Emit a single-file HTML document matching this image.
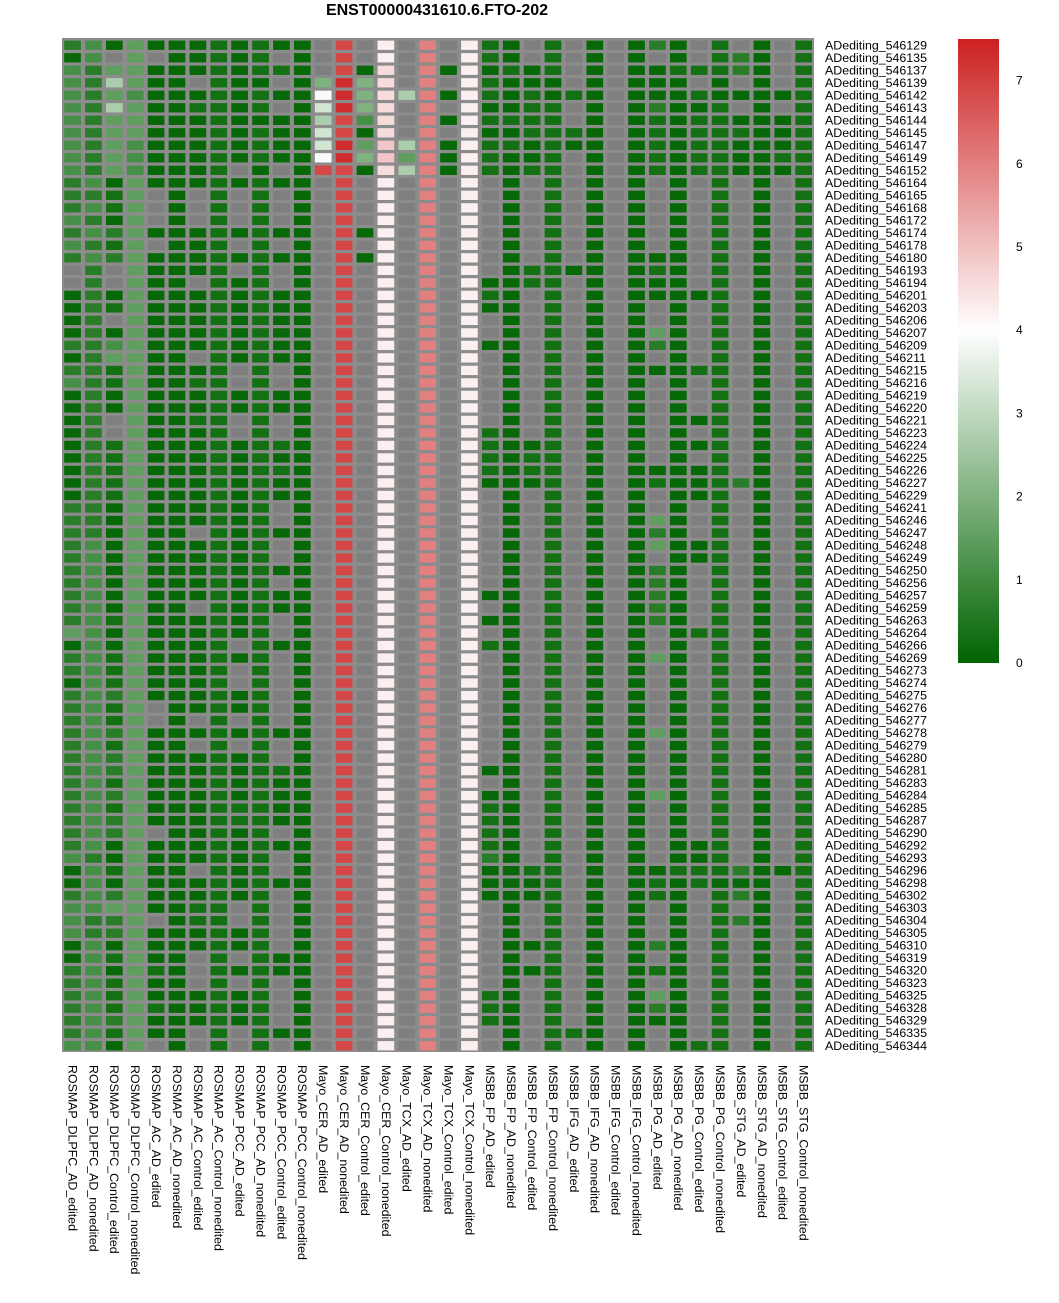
<!DOCTYPE html>
<html><head><meta charset="utf-8"><title>ENST00000431610.6.FTO-202</title>
<style>
html,body{margin:0;padding:0;background:#fff;}
svg{display:block;font-family:"Liberation Sans",Arial,sans-serif;}
</style></head>
<body>
<svg id="chart" width="1059" height="1303" viewBox="0 0 1059 1303">
<defs>
<linearGradient id="lg" x1="0" y1="1" x2="0" y2="0">
<stop offset="0" stop-color="#006400"/>
<stop offset="0.5333" stop-color="#ffffff"/>
<stop offset="1" stop-color="#cc2020"/>
</linearGradient>
</defs>
<text x="437" y="15" text-anchor="middle" font-size="16" font-weight="bold">ENST00000431610.6.FTO-202</text>
<g id="cells"></g>
<g id="rowlabels"></g>
<g id="collabels"></g>
<g id="legend">
<rect x="958" y="39" width="41" height="624" fill="url(#lg)"/>
</g>
</svg>
<script>
const columns = ["ROSMAP_DLPFC_AD_edited","ROSMAP_DLPFC_AD_nonedited","ROSMAP_DLPFC_Control_edited","ROSMAP_DLPFC_Control_nonedited","ROSMAP_AC_AD_edited","ROSMAP_AC_AD_nonedited","ROSMAP_AC_Control_edited","ROSMAP_AC_Control_nonedited","ROSMAP_PCC_AD_edited","ROSMAP_PCC_AD_nonedited","ROSMAP_PCC_Control_edited","ROSMAP_PCC_Control_nonedited","Mayo_CER_AD_edited","Mayo_CER_AD_nonedited","Mayo_CER_Control_edited","Mayo_CER_Control_nonedited","Mayo_TCX_AD_edited","Mayo_TCX_AD_nonedited","Mayo_TCX_Control_edited","Mayo_TCX_Control_nonedited","MSBB_FP_AD_edited","MSBB_FP_AD_nonedited","MSBB_FP_Control_edited","MSBB_FP_Control_nonedited","MSBB_IFG_AD_edited","MSBB_IFG_AD_nonedited","MSBB_IFG_Control_edited","MSBB_IFG_Control_nonedited","MSBB_PG_AD_edited","MSBB_PG_AD_nonedited","MSBB_PG_Control_edited","MSBB_PG_Control_nonedited","MSBB_STG_AD_edited","MSBB_STG_AD_nonedited","MSBB_STG_Control_edited","MSBB_STG_Control_nonedited"];
const rowIds = ["546129","546135","546137","546139","546142","546143","546144","546145","546147","546149","546152","546164","546165","546168","546172","546174","546178","546180","546193","546194","546201","546203","546206","546207","546209","546211","546215","546216","546219","546220","546221","546223","546224","546225","546226","546227","546229","546241","546246","546247","546248","546249","546250","546256","546257","546259","546263","546264","546266","546269","546273","546274","546275","546276","546277","546278","546279","546280","546281","546283","546284","546285","546287","546290","546292","546293","546296","546298","546302","546303","546304","546305","546310","546319","546320","546323","546325","546328","546329","546335","546344"];
// value codes: '.' = NA
const codeValues = {"0":0.1,"1":0.3,"2":0.65,"3":1.1,"4":1.5,"5":2.0,"6":2.7,"7":3.3,"8":3.9,"9":4.25,"a":4.55,"b":4.9,"c":6.0,"d":6.5,"e":6.9,"f":7.3};
const M = ".e.9.c.9";
const B = ".0.1.0.0.0.1.0.1";
const rowCodes = [
"230400010100"+".e.9.c.9"+"10.1.0.020.1.0.1",
"03.4.00101.0"+".e.9.c.9"+"10.1.0.0.0.120.1",
"324400010110"+".e0a.c09"+"0101.0.0011120.1",
"326400.100.0"+"5f5a.c.9"+"1000.0.000.0.0.1",
"324300010100"+"8f5a6c09"+"101010.000100001",
"3264001101.0"+"7f5a.c.9"+"0011.0.02001.0.1",
"324400010000"+"6e3a.c09"+"1111.0.010110001",
"324400010100"+"7e0a.c.9"+"001110.010111001",
"324300010100"+"7f4b6c09"+"110100.010110001",
"324300010100"+"8f5b4c09"+"1001.0.010110011",
"32430001.0.0"+"ee0a6c09"+"1011.0.010110001",
"230400010100"+M+B,
"2214.0.1.1.0"+M+B,
"2314.0.1.1.0"+M+B,
"3204.0.1.1.0"+M+B,
"232400010100"+".e09.c.9"+B,
"3214.001.1.0"+M+B,
"232400010100"+".e09.c.9"+".0.1.0.000.1.0.1",
".2.40001.1.0"+M+".01100.010.1.0.1",
".2.400.101.0"+M+"0011.0.000.1.0.1",
"020400010100"+M+"10.1.0.00001.0.1",
"021400010100"+M+"00.1.0.0.0.1.0.1",
"02.400010100"+M+B,
"020400010100"+M+".0.1.0.040.1.0.1",
"223400010100"+M+"00.1.0.020.1.0.1",
"024400.10100"+M+B,
"22140001.1.0"+M+".0.1.0.00011.0.1",
"32140011.1.0"+M+B,
"020400010100"+M+B,
"020400010100"+M+B,
"02.40011.1.0"+M+".0.1.0.0.001.0.1",
"02.40001.1.0"+M+"10.1.0.0.0.1.0.1",
"021400010110"+M+"1001.0.0.001.0.1",
"021400010100"+M+"1011.0.0.0.1.0.1",
"021400010110"+M+"1011.0.00001.0.1",
"021400010100"+M+"0001.0.0100120.1",
"021400010100"+M+".0.1.0.0.001.0.1",
"2204000101.0"+M+B,
"2204000101.0"+M+".0.1.0.040.1.0.1",
"220400.10100"+M+".0.1.0.020.1.0.1",
"2304000101.0"+M+".0.1.0.04001.0.1",
"2304000101.0"+M+".0.1.0.0.001.0.1",
"230400010100"+M+".0.1.0.020.1.0.1",
"2304000101.0"+M+".0.1.0.020.1.0.1",
"230400010100"+M+"00.1.0.020.1.0.1",
"230400.10100"+M+".0.1.0.020.1.0.1",
"2314000101.0"+M+"00.1.0.020.1.0.1",
"4304000101.0"+M+".0.1.0.0.011.0.1",
"03040001.100"+M+"10.1.0.0.0.1.0.1",
"2314000101.0"+M+".0.1.0.040.1.0.1",
"23140001.1.0"+M+B,
"03140001.1.0"+M+B,
"2324000101.0"+M+B,
"2314.00101.0"+M+B,
"2314.0.1.1.0"+M+B,
"232400010100"+M+".0.1.0.040.1.0.1",
"231400.1.1.0"+M+B,
"2324000101.0"+M+B,
"232400010110"+M+"00.1.0.0.0.1.0.1",
"231400010100"+M+B,
"232400010100"+M+"00.1.0.040.1.0.1",
"231400011100"+M+"10.1.0.0.0.1.0.1",
"232400011100"+M+"10.1.0.0.0.1.0.1",
"2324.00101.0"+M+"10.1.0.0.0.1.0.1",
"230400010100"+M+"10.1.0.0.001.0.1",
"3204000101.0"+M+"20.1.0.0.001.0.1",
"031400.101.0"+M+"0011.0.001112001",
"030400010100"+M+"0001.0.0101000.1",
"2324000101.0"+M+"0001.0.010.120.1",
"33440011.1.0"+M+B,
"3224.011.1.0"+M+".0.1.0.0.0.120.1",
"3224000101.0"+M+B,
"0304000101.0"+M+".001.0.020.1.0.1",
"031400.1.100"+M+B,
"230410.10100"+M+".001.0.010.1.0.1",
"231400.1.1.0"+M+B,
"2314000101.0"+M+"10.1.0.040.1.0.1",
"2314100101.0"+M+"10.1.0.020.1.0.1",
"2324000101.0"+M+"10.1.0.000.1.0.1",
"231400.1.100"+M+".0.110.0.0.1.0.1",
"3304.0.1.1.0"+M+".0.1.0.0.011.0.1"
];
const legendTicks = [0,1,2,3,4,5,6,7];

// ---- scales ----
const gx0 = 62, gy0 = 39, gx1 = 814, gy1 = 1052;
const colW = (gx1 - gx0) / columns.length;
const rowH = (gy1 - gy0) / rowIds.length;
const xScale = i => gx0 + i * colW;
const yScale = i => gy0 + i * rowH;
const vMin = 0, vMid = 4, vMax = 7.5;
const legTop = 39, legBot = 663;
const legY = v => legBot - (v - vMin) / (vMax - vMin) * (legBot - legTop);
function mix(a, b, t) { return a.map((c, k) => Math.round(c + (b[k] - c) * t)); }
function color(v) {
  const g = [0,100,0], w = [255,255,255], r = [204,32,32];
  let c;
  if (v <= vMid) c = mix(g, w, Math.max(0, (v - vMin) / (vMid - vMin)));
  else c = mix(w, r, Math.min(1, (v - vMid) / (vMax - vMid)));
  return "rgb(" + c.join(",") + ")";
}
const NS = "http://www.w3.org/2000/svg";
function mk(tag, attrs, parent) {
  const e = document.createElementNS(NS, tag);
  for (const k in attrs) e.setAttribute(k, attrs[k]);
  parent.appendChild(e);
  return e;
}
const cells = document.getElementById("cells");
const bg = mk("rect", {x: gx0, y: gy0 - 1, width: gx1 - gx0, height: gy1 - gy0 + 1, fill: "#8c8c8c"}, cells);


rowCodes.forEach((row, ri) => {
  for (let ci = 0; ci < columns.length; ci++) {
    const ch = row[ci] || ".";
    const v = codeValues[ch];
    const fill = (v === undefined) ? "#7f7f7f" : color(v);
    const r = mk("rect", {x: (xScale(ci) + 2.2).toFixed(2), y: (yScale(ri) + 1.6).toFixed(2), width: (colW - 4.2).toFixed(2), height: (rowH - 3.2).toFixed(2), fill: fill}, cells);
    
    
  }
});
const rl = document.getElementById("rowlabels");
rowIds.forEach((id, ri) => {
  const t = mk("text", {x: 825, y: (yScale(ri) + rowH / 2 + 4).toFixed(2), "font-size": 12.4}, rl);
  t.textContent = "ADediting_" + id;
  
  
});
const cl = document.getElementById("collabels");
columns.forEach((name, ci) => {
  const cx = xScale(ci) + colW / 2 - 4;
  const t = mk("text", {x: cx.toFixed(2), y: 1065, "font-size": 12.4, transform: "rotate(90 " + cx.toFixed(2) + " 1065)"}, cl);
  t.textContent = name;
  
  
});
const lg = document.getElementById("legend");
legendTicks.forEach(v => {
  const t = mk("text", {x: 1016, y: (legY(v) + 4).toFixed(2), "font-size": 12}, lg);
  t.textContent = String(v);
  
  
});
</script>
</body></html>
